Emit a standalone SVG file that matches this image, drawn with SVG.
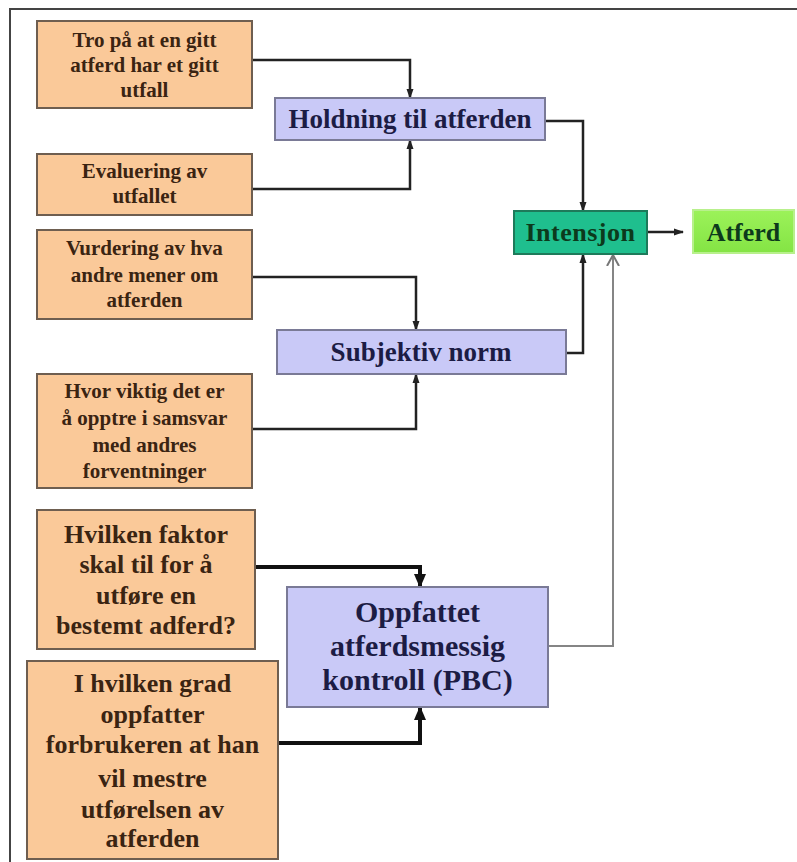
<svg xmlns="http://www.w3.org/2000/svg" width="797" height="862" viewBox="0 0 797 862">
<defs>
<style>
.src rect{fill:#fac999;stroke:#6e5e50;stroke-width:2}
.mid rect{fill:#c9c9f7;stroke:#7a7a96;stroke-width:2}
text{font-family:"Liberation Serif","Times New Roman",serif;font-weight:bold;text-anchor:middle}
.src text{fill:#3a2412;font-size:21px}
.src.big text{font-size:26px}
.mid text{fill:#1c1c44;font-size:27px}
.mid.big text{font-size:30px}
.out text{fill:#0c3a1c;font-size:26px}
.c{fill:none;stroke:#222;stroke-width:2.5}
.t{fill:none;stroke:#111;stroke-width:4}
.g{fill:none;stroke:#858585;stroke-width:2}
</style>
<marker id="a" markerUnits="userSpaceOnUse" markerWidth="10" markerHeight="10" viewBox="0 0 10 10" refX="9" refY="5" orient="auto"><path d="M0,1.5 L10,5 L0,8.5 Z" fill="#222"/></marker>
<marker id="ab" markerUnits="userSpaceOnUse" markerWidth="14" markerHeight="14" viewBox="0 0 14 14" refX="13" refY="7" orient="auto"><path d="M0,1 L14,7 L0,13 Z" fill="#111"/></marker>
<marker id="ao" markerUnits="userSpaceOnUse" markerWidth="12" markerHeight="14" viewBox="0 0 12 14" refX="11" refY="7" orient="auto"><path d="M0,1 L11,7 L0,13" fill="none" stroke="#777" stroke-width="2"/></marker>
<linearGradient id="gg" x1="0" y1="0" x2="0" y2="1"><stop offset="0" stop-color="#9cf25a"/><stop offset="1" stop-color="#84e444"/></linearGradient>
</defs>
<rect width="797" height="862" fill="#fff"/>
<g id="frame"><path d="M10,862 V9 H797" fill="none" stroke="#444" stroke-width="2"/></g>

<g id="connectors">
<path class="c" d="M252,60 H410 V98" marker-end="url(#a)"/>
<path class="c" d="M252,189 H410 V140" marker-end="url(#a)"/>
<path class="c" d="M545,121 H583 V211" marker-end="url(#a)"/>
<path class="c" d="M252,277 H416 V330" marker-end="url(#a)"/>
<path class="c" d="M252,429 H416 V374" marker-end="url(#a)"/>
<path class="c" d="M566,353 H583 V254" marker-end="url(#a)"/>
<path class="c" d="M647,232 H683" marker-end="url(#a)"/>
<path class="t" d="M255,567 H420 V587" marker-end="url(#ab)"/>
<path class="t" d="M278,743 H420 V707" marker-end="url(#ab)"/>
<path class="g" d="M548,646 H613 V255" marker-end="url(#ao)"/>
</g>

<g id="n1" class="src"><rect x="37" y="21" width="215" height="87"/>
<text x="144.5" y="47">Tro på at en gitt</text><text x="144.5" y="72">atferd har et gitt</text><text x="144.5" y="97">utfall</text></g>
<g id="n2" class="src"><rect x="37" y="154" width="215" height="61"/>
<text x="144.5" y="178">Evaluering av</text><text x="144.5" y="203">utfallet</text></g>
<g id="n3" class="src"><rect x="37" y="230" width="215" height="89"/>
<text x="144.5" y="255">Vurdering av hva</text><text x="144.5" y="282">andre mener om</text><text x="144.5" y="307">atferden</text></g>
<g id="n4" class="src"><rect x="37" y="374" width="215" height="114"/>
<text x="144.5" y="398">Hvor viktig det er</text><text x="144.5" y="425">å opptre i samsvar</text><text x="144.5" y="452">med andres</text><text x="144.5" y="478">forventninger</text></g>
<g id="n5" class="src big"><rect x="37" y="510" width="218" height="139"/>
<text x="146" y="543">Hvilken faktor</text><text x="146" y="573">skal til for å</text><text x="146" y="604">utføre en</text><text x="146" y="634">bestemt adferd?</text></g>
<g id="n6" class="src big"><rect x="27" y="661" width="251" height="198"/>
<text x="152.5" y="692">I hvilken grad</text><text x="152.5" y="723">oppfatter</text><text x="152.5" y="753">forbrukeren at han</text><text x="152.5" y="787">vil mestre</text><text x="152.5" y="818">utførelsen av</text><text x="152.5" y="847">atferden</text></g>

<g id="holdning" class="mid"><rect x="275" y="98" width="270" height="42"/>
<text x="410" y="128">Holdning til atferden</text></g>
<g id="subjektiv" class="mid"><rect x="277" y="330" width="289" height="44"/>
<text x="421" y="361">Subjektiv norm</text></g>
<g id="pbc" class="mid big"><rect x="287" y="587" width="261" height="120"/>
<text x="417.5" y="622">Oppfattet</text><text x="417.5" y="656">atferdsmessig</text><text x="417.5" y="690">kontroll (PBC)</text></g>

<g id="intensjon" class="out"><rect x="514" y="211" width="133" height="43" fill="#1fbf8e" stroke="#1e7a5a" stroke-width="2"/>
<text x="580.5" y="241" letter-spacing="0.5">Intensjon</text></g>
<g id="atferd" class="out"><rect x="693" y="210" width="101" height="43" fill="url(#gg)" stroke="#b8f08c" stroke-width="2"/>
<text x="743.5" y="241">Atferd</text></g>
</svg>
